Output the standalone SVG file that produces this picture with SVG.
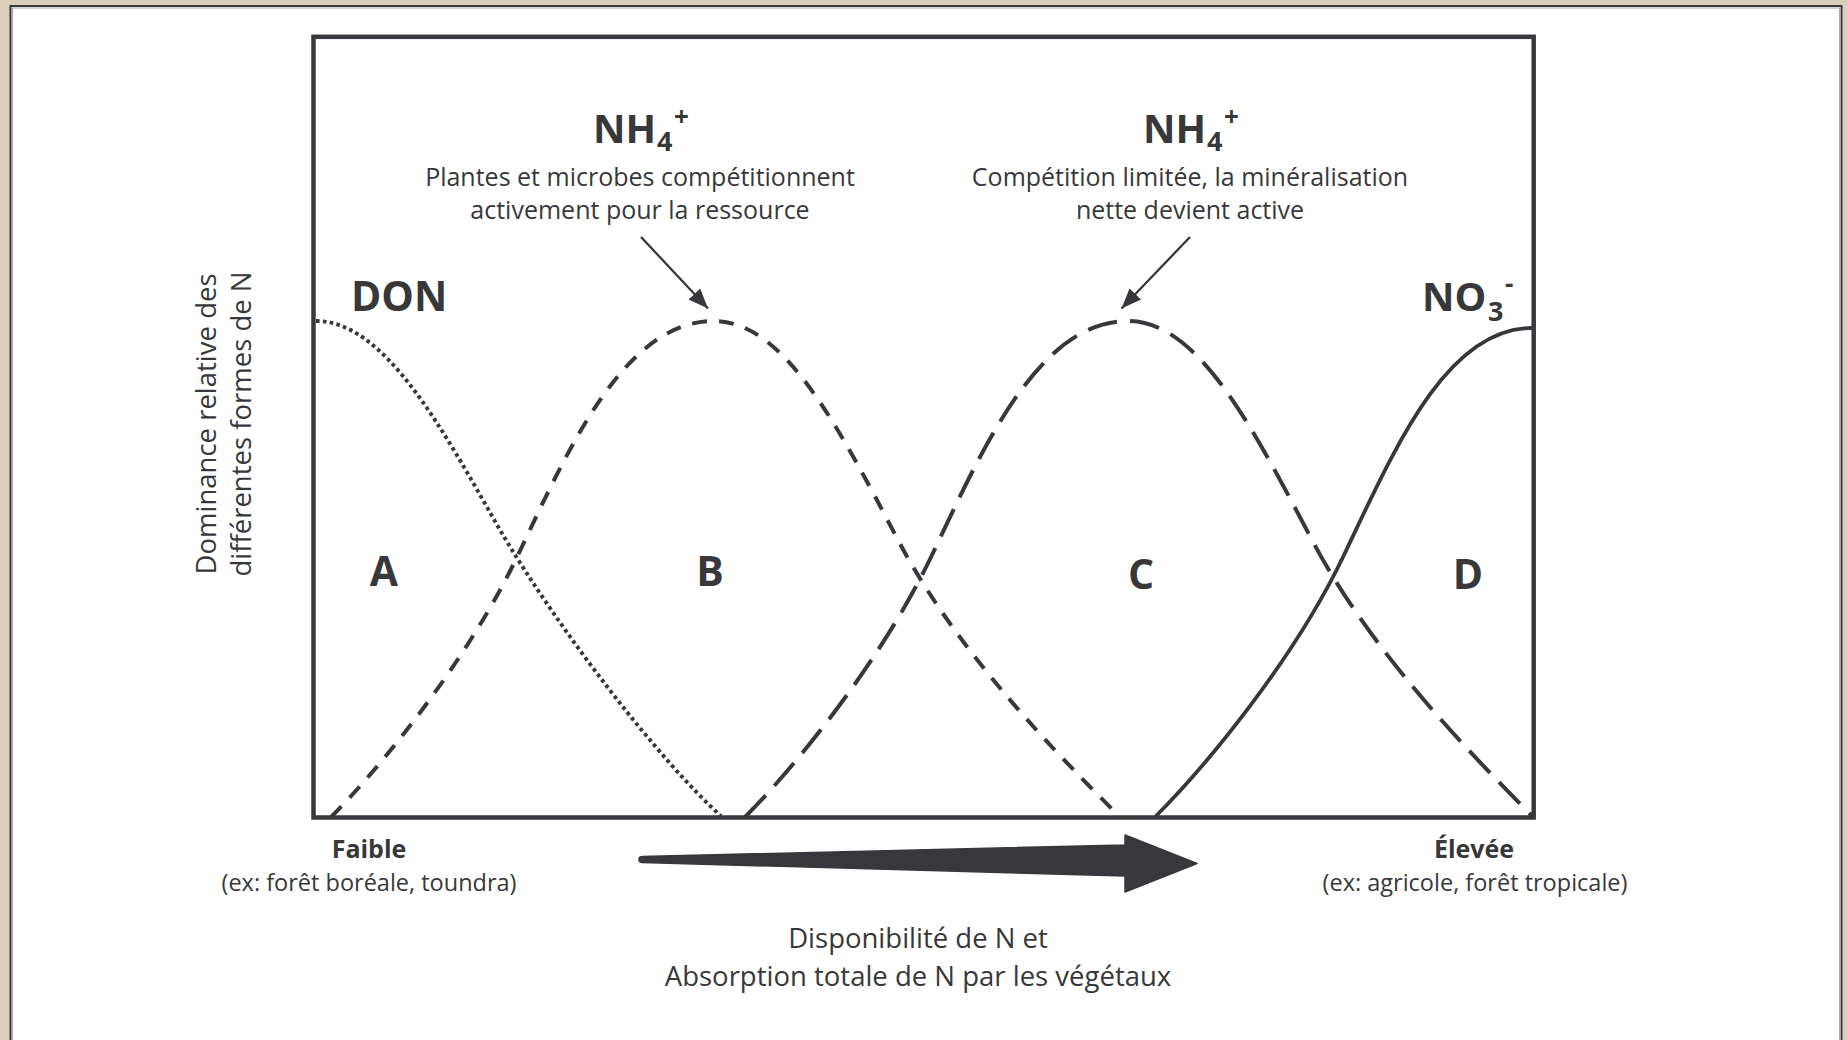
<svg xmlns="http://www.w3.org/2000/svg" width="1847" height="1040" viewBox="0 0 1847 1040">
<style>
  .t{font-family:"Open Sans","Noto Sans","Liberation Sans",sans-serif;fill:#38383b}
  .b{font-weight:bold}
  .s25{font-size:25px}
  .s27{font-size:27.5px}
  .lbl{font-size:41px;font-weight:bold}
  .hd{font-size:40px;font-weight:bold}
  .sub{font-size:27px;font-weight:bold}
  .sup{font-size:26px;font-weight:bold}
  .curve{fill:none;stroke:#38373b}
  .dot{stroke-width:3.9;stroke-dasharray:3.6 3.3}
  .dash1{stroke-width:4;stroke-dasharray:15 12}
  .dash2{stroke-width:4;stroke-dasharray:30 13}
  .solid{stroke-width:3.8}
  .ann{stroke:#38373b;stroke-width:2.3;fill:none}
</style>
<defs>
  <marker id="ah" markerUnits="userSpaceOnUse" markerWidth="22" markerHeight="18" viewBox="0 0 22 18" refX="20" refY="9" orient="auto">
    <path d="M0,1 L20,9 L0,17 Z" fill="#38373b"/>
  </marker>
</defs>
<!-- background frame -->
<rect x="0" y="0" width="1847" height="1040" fill="#dbcfba"/>
<rect x="10.5" y="6" width="1831" height="1100" fill="#ffffff" stroke="#3a393d" stroke-width="2"/>
<rect x="12.5" y="8" width="1827" height="1100" fill="none" stroke="#a8a8a8" stroke-width="1"/>

<!-- plot box -->
<g id="plot-box">
  <rect x="313.5" y="36.8" width="1220.2" height="780.7" fill="none" stroke="#3a393d" stroke-width="4.5"/>
</g>

<!-- curves -->
<g id="curves">
  <path id="curve-don" class="curve dot" d="M316,321 C385,321 443,430 500,530 C560,632 661,762 721,816"/>
  <path id="curve-nh4-a" class="curve dash1" d="M331,817 C381,767 468,660 518,555 C568,450 624,321 714,321 C784,321 838,426 898,540 C958,654 1060,757 1120,817"/>
  <path id="curve-nh4-b" class="curve dash2" d="M745,817 C795,767 882,660 932,555 C982,450 1038,321 1128,321 C1198,321 1252,426 1312,540 C1372,654 1474,757 1533,817"/>
  <path id="curve-no3" class="curve solid" d="M1155,817 C1205,767 1294,660 1344,555 C1394,450 1446,328 1532,328"/>
</g>

<!-- connectors -->
<g id="connectors">
  <line class="ann" x1="641" y1="237" x2="708" y2="308.5" marker-end="url(#ah)"/>
  <line class="ann" x1="1190" y1="237" x2="1121.5" y2="308.5" marker-end="url(#ah)"/>
  <path id="axis-arrow" d="M642,856.5 L1125,845 L1125,835 L1197,863.5 L1125,892 L1125,876 L642,862.5 A3,3 0 0 1 642,856.5 Z" fill="#38373b" stroke="#38373b" stroke-width="1.5" stroke-linejoin="round"/>
</g>

<!-- labels -->
<g id="node-nh4-a">
  <text class="t hd" x="593" y="143">NH</text>
  <text class="t sub" x="657" y="151">4</text>
  <text class="t sup" x="674" y="126">+</text>
  <text class="t s25" x="640" y="186" text-anchor="middle">Plantes et microbes compétitionnent</text>
  <text class="t s25" x="640" y="219" text-anchor="middle">activement pour la ressource</text>
</g>
<g id="node-nh4-b">
  <text class="t hd" x="1143" y="143">NH</text>
  <text class="t sub" x="1207" y="151">4</text>
  <text class="t sup" x="1224" y="126">+</text>
  <text class="t s25" x="1190" y="186" text-anchor="middle">Compétition limitée, la minéralisation</text>
  <text class="t s25" x="1190" y="219" text-anchor="middle">nette devient active</text>
</g>
<g id="node-don">
  <text class="t lbl" x="351" y="311">DON</text>
</g>
<g id="node-no3">
  <text class="t hd" x="1422" y="311">NO</text>
  <text class="t sub" x="1488" y="321">3</text>
  <text class="t sup" x="1505" y="293">-</text>
</g>
<g id="zones">
  <text class="t lbl" x="384" y="586" text-anchor="middle">A</text>
  <text class="t lbl" x="710" y="586" text-anchor="middle">B</text>
  <text class="t lbl" x="1141" y="589" text-anchor="middle">C</text>
  <text class="t lbl" x="1468" y="589" text-anchor="middle">D</text>
</g>
<g id="node-faible">
  <text class="t b s25" x="369" y="858" text-anchor="middle">Faible</text>
  <text class="t" style="font-size:23.5px" x="369" y="891" text-anchor="middle">(ex: forêt boréale, toundra)</text>
</g>
<g id="node-elevee">
  <text class="t b s25" x="1474" y="858" text-anchor="middle">Élevée</text>
  <text class="t" style="font-size:23.5px" x="1475" y="891" text-anchor="middle">(ex: agricole, forêt tropicale)</text>
</g>
<g id="node-xaxis">
  <text class="t s27" x="918" y="948" text-anchor="middle">Disponibilité de N et</text>
  <text class="t s27" x="918" y="986" text-anchor="middle">Absorption totale de N par les végétaux</text>
</g>
<g id="node-yaxis">
  <text class="t s27" transform="translate(216,424) rotate(-90)" text-anchor="middle">Dominance relative des</text>
  <text class="t s27" transform="translate(251,424) rotate(-90)" text-anchor="middle">différentes formes de N</text>
</g>
</svg>
